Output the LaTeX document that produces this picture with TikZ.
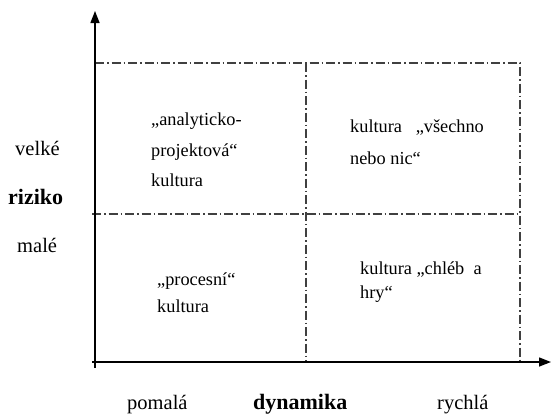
\documentclass[tikz,border=0pt]{standalone}
\usepackage{fontspec}
\setmainfont{Liberation Serif}
\usetikzlibrary{arrows.meta}
\begin{document}
\begin{tikzpicture}[x=1pt,y=-1pt,
  axis/.style={line width=1.4pt,black,-{Triangle[length=12pt,width=9pt]}},
  grid/.style={line width=1.1pt,black!75,dash pattern=on 9pt off 3pt on 1.5pt off 3pt},
  qtext/.style={anchor=base west,inner sep=0pt,font=\fontsize{18.3}{22}\selectfont},
  lab/.style={anchor=base west,inner sep=0pt,font=\fontsize{20.5}{24}\selectfont},
  blab/.style={lab,font=\fontsize{22}{26}\selectfont\bfseries}]
\useasboundingbox (0,0) rectangle (551,416);
% coordinates
\coordinate (ybot) at (95,368);
\coordinate (ytop) at (95,11);
\coordinate (xleft) at (92,362);
\coordinate (xright) at (551,362);
\coordinate (tl) at (95,63);
\coordinate (tm) at (306,63);
\coordinate (tr) at (520,63);
\coordinate (ml) at (92,214);
\coordinate (mr) at (520,214);
\coordinate (bm) at (306,362);
\coordinate (br) at (520,362);
% grid
\draw[grid] (tl) -- (tm) -- (tr) -- (br);
\draw[grid] (tm) -- (bm);
\draw[grid] (ml) -- (mr);
% axes
\draw[axis] (ybot) -- (ytop);
\draw[axis] (xleft) -- (xright);
% quadrant texts
\node[qtext] (a1) at (151,125) {„analyticko-};
\node[qtext] (a2) at (151,156) {projektová“};
\node[qtext] (a3) at (151,186) {kultura};
\node[qtext] (b1) at (350,132) {kultura\ \ \ „všechno};
\node[qtext] (b2) at (350,164) {nebo nic“};
\node[qtext] (c1) at (157,285) {„procesní“};
\node[qtext] (c2) at (157,312) {kultura};
\node[qtext] (d1) at (360,274) {kultura „chléb\ \ a};
\node[qtext] (d2) at (360,298) {hry“};
% axis labels
\node[lab] (velke) at (15,155) {velké};
\node[blab] (riziko) at (8,204) {riziko};
\node[lab] (male) at (17,252) {malé};
\node[lab] (pomala) at (127,409) {pomalá};
\node[blab] (dyn) at (253,409) {dynamika};
\node[lab] (rychla) at (437,409) {rychlá};
\end{tikzpicture}
\end{document}
